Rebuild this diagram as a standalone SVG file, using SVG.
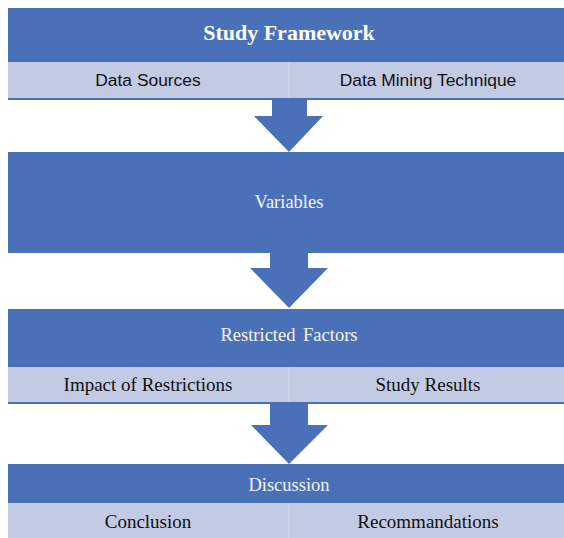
<svg xmlns="http://www.w3.org/2000/svg" width="564" height="538" viewBox="0 0 564 538">
<style>
.dark{fill:#4A71B7}
.light{fill:#C3CBE4}
.div{stroke:#D6DCEE;stroke-width:1}
.arrow{fill:#4A71B7}
.title{font-family:"Liberation Serif","Times New Roman",serif;font-size:22px;font-weight:bold;fill:#FFFFFF;text-anchor:middle}
.head{font-family:"Liberation Serif","Times New Roman",serif;font-size:18.5px;fill:#F2F4FA;text-anchor:middle}
.sans{font-family:"Liberation Sans",Arial,sans-serif;font-size:17.4px;fill:#111111;text-anchor:middle}
.serif{font-family:"Liberation Serif","Times New Roman",serif;font-size:19px;fill:#111111;text-anchor:middle}
</style>
<rect width="564" height="538" fill="#FFFFFF"/>
<g id="study-framework">
<rect class="dark" x="8" y="8" width="556" height="54"/>
<rect class="light" x="8" y="62" width="556" height="36"/>
<rect class="dark" x="8" y="98" width="556" height="2"/>
<line class="div" x1="289" y1="62" x2="289" y2="98"/>
<text class="title" x="289" y="40">Study Framework</text>
<text class="sans" x="148" y="86">Data Sources</text>
<text class="sans" x="428" y="86">Data Mining Technique</text>
</g>
<g id="variables">
<rect class="dark" x="8" y="152" width="556" height="101"/>
<text class="head" x="289" y="208">Variables</text>
</g>
<g id="restricted-factors">
<rect class="dark" x="8" y="309" width="556" height="58"/>
<rect class="light" x="8" y="367" width="556" height="35"/>
<rect class="dark" x="8" y="402" width="556" height="2"/>
<line class="div" x1="289" y1="367" x2="289" y2="402"/>
<text class="head" x="289" y="341" style="word-spacing:3px">Restricted Factors</text>
<text class="serif" x="148" y="391">Impact of Restrictions</text>
<text class="serif" x="428" y="391">Study Results</text>
</g>
<g id="discussion">
<rect class="dark" x="8" y="464" width="556" height="39"/>
<rect class="light" x="8" y="503" width="556" height="35"/>
<line class="div" x1="289" y1="503" x2="289" y2="538"/>
<text class="head" x="289" y="491">Discussion</text>
<text class="serif" x="148" y="528">Conclusion</text>
<text class="serif" x="428" y="528">Recommandations</text>
</g>
<g id="connectors">
<polygon class="arrow" points="272,100 307,100 307,116 323,116 289,152 254,116 272,116"/>
<polygon class="arrow" points="270,253 308,253 308,268 328,268 289,308 250,268 270,268"/>
<polygon class="arrow" points="270,404 308,404 308,425 328,425 289,464 251,425 270,425"/>
</g>
</svg>
